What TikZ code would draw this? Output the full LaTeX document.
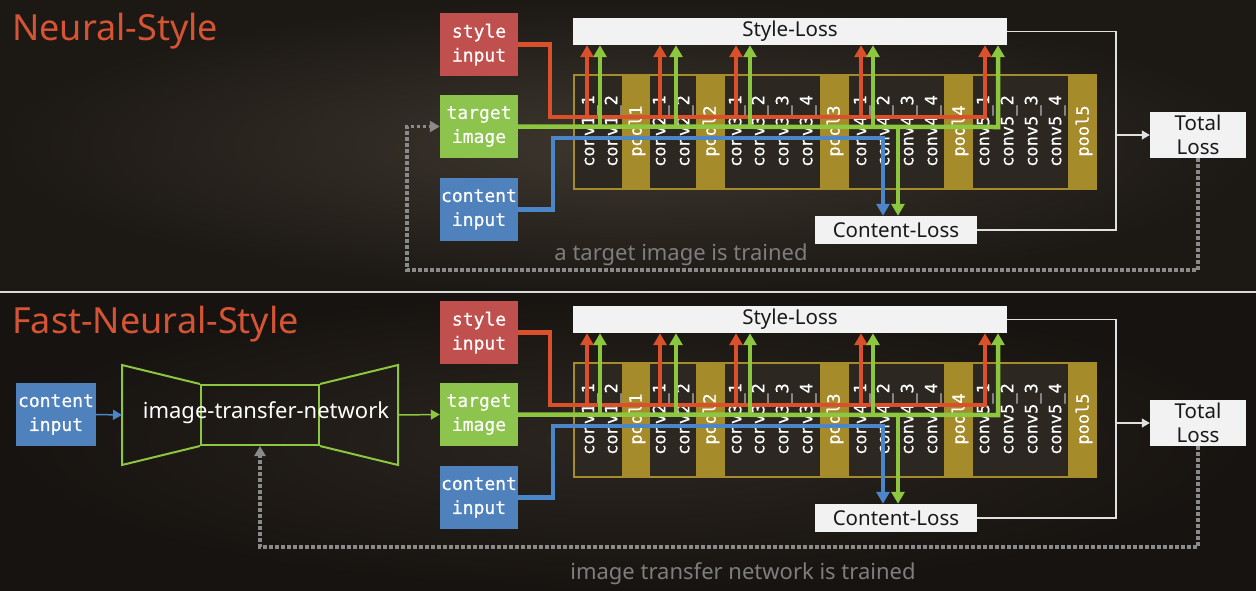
\documentclass[tikz,border=0pt]{standalone}
\usepackage{fontspec}
\setmainfont{Noto Sans}
\newfontface\monof[FakeBold=0.5]{DejaVu Sans Mono}
\usetikzlibrary{arrows.meta,calc}
\definecolor{bgIn}{HTML}{3D372E}
\definecolor{bgOut}{HTML}{1C1814}
\definecolor{bgIn2}{HTML}{2B2620}
\definecolor{bgOut2}{HTML}{171310}
\definecolor{cTitle}{HTML}{D45433}
\definecolor{cRedBox}{HTML}{C0504D}
\definecolor{cGreenBox}{HTML}{8DC44E}
\definecolor{cBlueBox}{HTML}{4F81BD}
\definecolor{cRed}{HTML}{D9502A}
\definecolor{cGreen}{HTML}{8DC63F}
\definecolor{cBlue}{HTML}{4A86C8}
\definecolor{cOlive}{HTML}{A68B2A}
\definecolor{cDark}{HTML}{2C2721}
\definecolor{cLoss}{HTML}{F2F2F2}
\definecolor{cGray}{HTML}{7E7E7E}
\definecolor{cDot}{HTML}{8A8A8A}
\definecolor{cThin}{HTML}{E0E0E0}
\tikzset{
  inbox/.style={rectangle, minimum width=78pt, minimum height=63pt, inner sep=0pt,
    text=white, align=center, font=\monof\fontsize{18}{24}\selectfont},
  layer/.style={rotate=90, text=white, inner sep=0pt, font=\monof\fontsize{17}{17}\selectfont},
  lossbox/.style={rectangle, fill=cLoss, inner sep=0pt, text=black!90,
    font=\fontsize{20.5}{24}\selectfont, align=center},
  fatline/.style={line width=4.5pt, line join=miter},
  fattip/.style={-{Triangle[length=12pt,width=13pt]}},
  thinline/.style={cThin, line width=1.2pt},
  dotline/.style={cDot, line width=3.5pt, dash pattern=on 3.5pt off 2.5pt},
  title/.style={anchor=west, text=cTitle, inner sep=0pt, font=\fontsize{36}{40}\selectfont},
  note/.style={text=cGray, inner sep=0pt, font=\fontsize{22}{26}\selectfont},
}
\newcommand\vggpart[1]{%
  \node[inbox, fill=cRedBox] (#1si) at (479,44.5) {style\\input};
  \node[inbox, fill=cGreenBox] (#1ti) at (479,126.5) {target\\image};
  \node[inbox, fill=cBlueBox] (#1ci) at (479,209.5) {content\\input};
  \node[lossbox, minimum width=434pt, minimum height=27pt] (#1sl) at (790,31.5) {Style-Loss};
  \node[lossbox, minimum width=162pt, minimum height=28pt] (#1cl) at (896,230) {Content-Loss};
  \node[lossbox, minimum width=96pt, minimum height=46pt] (#1tl) at (1198,135) {Total\\Loss};
  % VGG block
  \fill[cOlive] (573,74) rectangle (1097,190);
  \fill[cDark] (575,76) rectangle (622,188);
  \fill[cDark] (650,76) rectangle (696,188);
  \fill[cDark] (725,76) rectangle (820,188);
  \fill[cDark] (849,76) rectangle (944,188);
  \fill[cDark] (973,76) rectangle (1068,188);
  \foreach \x/\t/\n in {590/conv1\_1/a, 613/conv1\_2/b, 637/pool1/c,
      661/conv2\_1/d, 685/conv2\_2/e, 711/pool2/f,
      737/conv3\_1/g, 760/conv3\_2/h, 784/conv3\_3/i, 808/conv3\_4/j, 835/pool3/k,
      862/conv4\_1/l, 885/conv4\_2/m, 909/conv4\_3/n, 933/conv4\_4/o, 960/pool4/p,
      985/conv5\_1/q, 1009/conv5\_2/r, 1033/conv5\_3/s, 1057/conv5\_4/t, 1084/pool5/u}
    {\node[layer] (#1L\n) at (\x,131) {\t};}
  % red (style)
  \coordinate (#1rc) at (550,117);
  \foreach \x [count=\i] in {587,660,736,861}
    {\coordinate (#1r\i) at (\x,117);
     \draw[cRed, fatline, fattip] (#1r\i) -- (#1r\i |- #1sl.south);}
  \coordinate (#1r5) at (985,117);
  \draw[cRed, fatline, fattip] (#1si.east) -| (#1rc) -- (#1r5) -- (#1r5 |- #1sl.south);
  % green (target)
  \foreach \x [count=\i] in {600,676,750,873}
    {\coordinate (#1g\i) at (\x,127);
     \draw[cGreen, fatline, fattip] (#1g\i) -- (#1g\i |- #1sl.south);}
  \coordinate (#1g5) at (998,127);
  \draw[cGreen, fatline, fattip] (#1ti.east) -- (#1g5) -- (#1g5 |- #1sl.south);
  \coordinate (#1gd) at (898,127);
  \draw[cGreen, fatline, fattip] (#1gd) -- (#1gd |- #1cl.north);
  % blue (content)
  \coordinate (#1bc) at (553,138);
  \coordinate (#1bd) at (883,138);
  \draw[cBlue, fatline, fattip] (#1ci.east) -| (#1bc) -- (#1bd) -- (#1bd |- #1cl.north);
  % to total loss
  \coordinate (#1j) at (1116,135);
  \draw[thinline] (#1sl.east) -| (#1j);
  \draw[thinline] (#1cl.east) -| (#1j);
  \draw[thinline, -{Triangle[length=8pt,width=9pt]}] (#1j) -- (#1tl.west);
}
\begin{document}
\begin{tikzpicture}[x=1pt, y=-1pt]
\useasboundingbox (0,0) rectangle (1256,590);
\shade[inner color=bgIn, outer color=bgOut] (0,0) rectangle (1256,291);
\shade[inner color=bgIn2, outer color=bgOut2] (0,291) rectangle (1256,590);
\draw[white!85!black, line width=1.2pt] (0,292) -- (1256,292);

% ---------- top: Neural-Style ----------
\node[title] (t1) at (12,31) {Neural-Style};
\vggpart{A}
\coordinate (Ad1) at (1198,270);
\coordinate (Ad2) at (407,270);
\draw[dotline, -{Triangle[length=10pt,width=11pt]}] (Atl.south) -- (Ad1) -- (Ad2) |- (Ati.west);
\node[note] (n1) at (681,255) {a target image is trained};

% ---------- bottom: Fast-Neural-Style ----------
\node[title] (t2) at (12,324) {Fast-Neural-Style};
\begin{scope}[yshift=-288pt]
\vggpart{B}
\end{scope}
\node[inbox, fill=cBlueBox, minimum width=80pt] (Cci) at (56,414.5) {content\\input};
\node[draw=cGreen, line width=2pt, minimum width=118pt, minimum height=60pt, inner sep=0pt] (itn) at (260,415) {};
\coordinate (tl1) at (122,365);
\coordinate (tl2) at (122,465);
\coordinate (tr1) at (398,365);
\coordinate (tr2) at (398,465);
\draw[cGreen, line width=2pt, line join=miter] (itn.north west) -- (tl1) -- (tl2) -- (itn.south west);
\draw[cGreen, line width=2pt, line join=miter] (itn.north east) -- (tr1) -- (tr2) -- (itn.south east);
\node[text=white, inner sep=0pt, font=\fontsize{22}{26}\selectfont] (itnt) at (266,413) {image-transfer-network};
\coordinate (inL) at (122,415);
\coordinate (inR) at (398,415);
\draw[cBlue, line width=1.5pt, -{Triangle[length=9pt,width=10pt]}] (Cci.east) -- (inL);
\draw[cGreen, line width=1.5pt, -{Triangle[length=9pt,width=10pt]}] (inR) -- (Bti.west);
\coordinate (Bd1) at (1198,547);
\draw[dotline, -{Triangle[length=10pt,width=11pt]}] (Btl.south) -- (Bd1) -| (itn.south);
\node[note] (n2) at (743,574) {image transfer network is trained};
\end{tikzpicture}
\end{document}
